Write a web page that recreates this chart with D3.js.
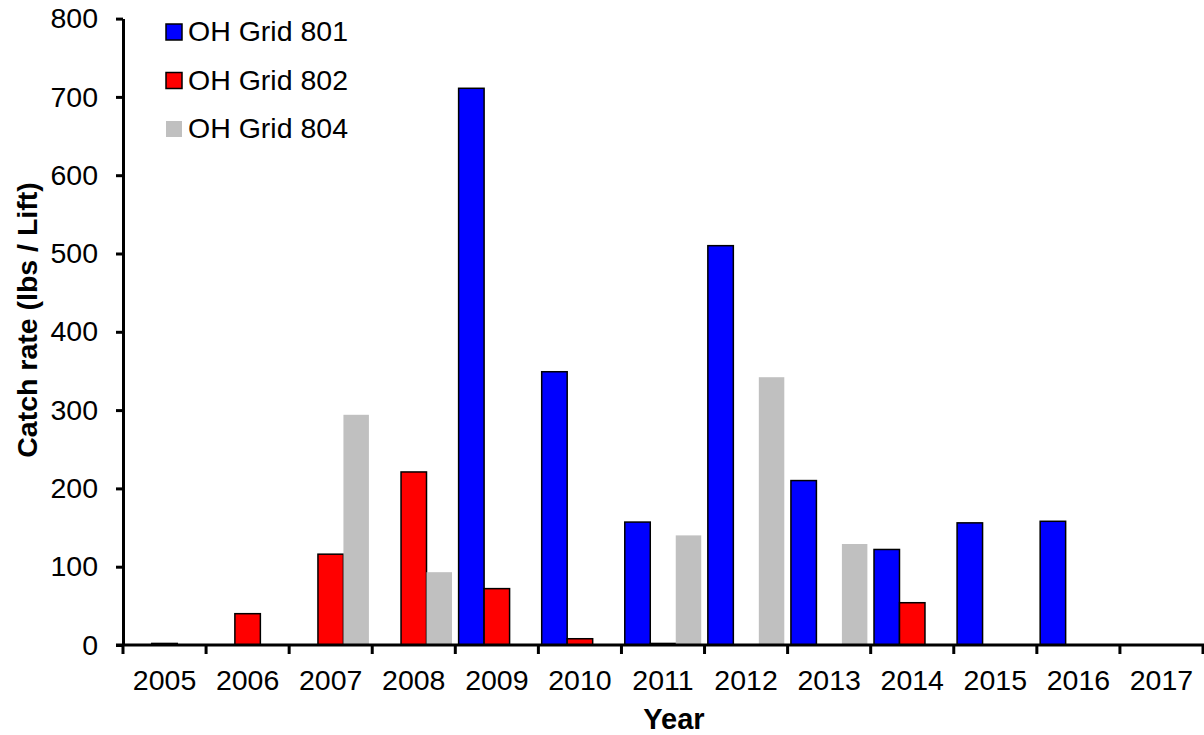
<!DOCTYPE html>
<html>
<head>
<meta charset="utf-8">
<script src="https://cdnjs.cloudflare.com/ajax/libs/d3/7.8.5/d3.min.js"></script>
<style>
  body { margin: 0; background: #fff; }
  svg { display: block; font-family: "Liberation Sans", Arial, sans-serif; }
</style>
</head>
<body>
<svg width="1204" height="735"></svg>
<script>
var years = ["2005", "2006", "2007", "2008", "2009", "2010", "2011", "2012", "2013", "2014", "2015", "2016", "2017"];
var seriesNames = ["OH Grid 801", "OH Grid 802", "OH Grid 804"];
var grid801 = [0, 0, 0, 0, 711, 349, 157, 510, 210, 122, 156, 158, 0];
var grid802 = [2, 40, 116, 221, 72, 8, 2, 0, 0, 54, 0, 0, 0];
var grid804 = [0, 0, 294, 93, 0, 0, 140, 342, 129, 0, 0, 0, 0];
var yTicks = [0, 100, 200, 300, 400, 500, 600, 700, 800];

var colors = { "OH Grid 801": "#0000ff", "OH Grid 802": "#ff0000", "OH Grid 804": "#c0c0c0" };
var strokes = { "OH Grid 801": "#000", "OH Grid 802": "#000", "OH Grid 804": "none" };

var svg = d3.select("svg"),
    plotLeft = 123, plotRight = 1203, plotTop = 18.6, plotBottom = 645;

var x0 = d3.scaleBand().domain(years).range([plotLeft, plotRight]).padding(0);
var x1 = d3.scaleBand().domain(seriesNames).range([0, x0.bandwidth()])
    .paddingInner(0).paddingOuter(0.13);
var y = d3.scaleLinear().domain([0, 800]).range([plotBottom, plotTop]);

var rows = [];
years.forEach(function (yr, i) {
    [grid801, grid802, grid804].forEach(function (arr, j) {
        if (arr[i] > 0) rows.push({ year: yr, series: seriesNames[j], value: arr[i] });
    });
});

// bars
svg.append("g").selectAll("rect")
    .data(rows)
    .enter().append("rect")
    .attr("x", function (d) { return x0(d.year) + x1(d.series); })
    .attr("y", function (d) { return y(d.value); })
    .attr("width", x1.bandwidth())
    .attr("height", function (d) { return plotBottom - y(d.value); })
    .attr("fill", function (d) { return colors[d.series]; })
    .attr("stroke", function (d) { return strokes[d.series]; })
    .attr("stroke-width", 1.5);

// y axis
var yAxis = svg.append("g")
    .attr("transform", "translate(" + plotLeft + ",0)")
    .call(d3.axisLeft(y).tickValues(yTicks).tickSize(7).tickPadding(18).tickSizeOuter(0));
yAxis.select(".domain").attr("stroke-width", 3);
yAxis.selectAll(".tick line").attr("stroke-width", 3);
yAxis.selectAll(".tick text").attr("font-size", 28.5).attr("font-family", "Liberation Sans, Arial, sans-serif").attr("fill", "#000");

// x axis: labels centred in bands, ticks on band boundaries
var xAxis = svg.append("g")
    .attr("transform", "translate(0," + plotBottom + ")")
    .call(d3.axisBottom(x0).tickSize(0).tickPadding(25));
xAxis.select(".domain").remove();
xAxis.selectAll(".tick text").attr("font-size", 28.5).attr("font-family", "Liberation Sans, Arial, sans-serif").attr("fill", "#000");

var bounds = years.map(function (d) { return x0(d); }).concat([plotRight]);
svg.append("g").selectAll("line")
    .data(bounds)
    .enter().append("line")
    .attr("x1", function (d) { return d; })
    .attr("x2", function (d) { return d; })
    .attr("y1", plotBottom)
    .attr("y2", plotBottom + 9)
    .attr("stroke", "#000")
    .attr("stroke-width", 3);

svg.append("line")
    .attr("x1", plotLeft - 7).attr("x2", plotRight + 1)
    .attr("y1", plotBottom).attr("y2", plotBottom)
    .attr("stroke", "#000").attr("stroke-width", 3);

// axis titles
svg.append("text")
    .attr("transform", "translate(37,320) rotate(-90)")
    .attr("text-anchor", "middle")
    .attr("font-size", 28.5)
    .attr("font-weight", "bold")
    .text("Catch rate (lbs / Lift)");

svg.append("text")
    .attr("x", 674).attr("y", 729)
    .attr("text-anchor", "middle")
    .attr("font-size", 29)
    .attr("font-weight", "bold")
    .text("Year");

// legend
var legend = svg.append("g").selectAll("g")
    .data(seriesNames)
    .enter().append("g")
    .attr("transform", function (d, i) { return "translate(166," + (24 + i * 48.5) + ")"; });

legend.append("rect")
    .attr("width", 16).attr("height", 16)
    .attr("fill", function (d) { return colors[d]; })
    .attr("stroke", function (d) { return strokes[d]; })
    .attr("stroke-width", 1.5);

legend.append("text")
    .attr("x", 22).attr("y", 17)
    .attr("font-size", 28.5)
    .text(function (d) { return d; });
</script>
</body>
</html>
